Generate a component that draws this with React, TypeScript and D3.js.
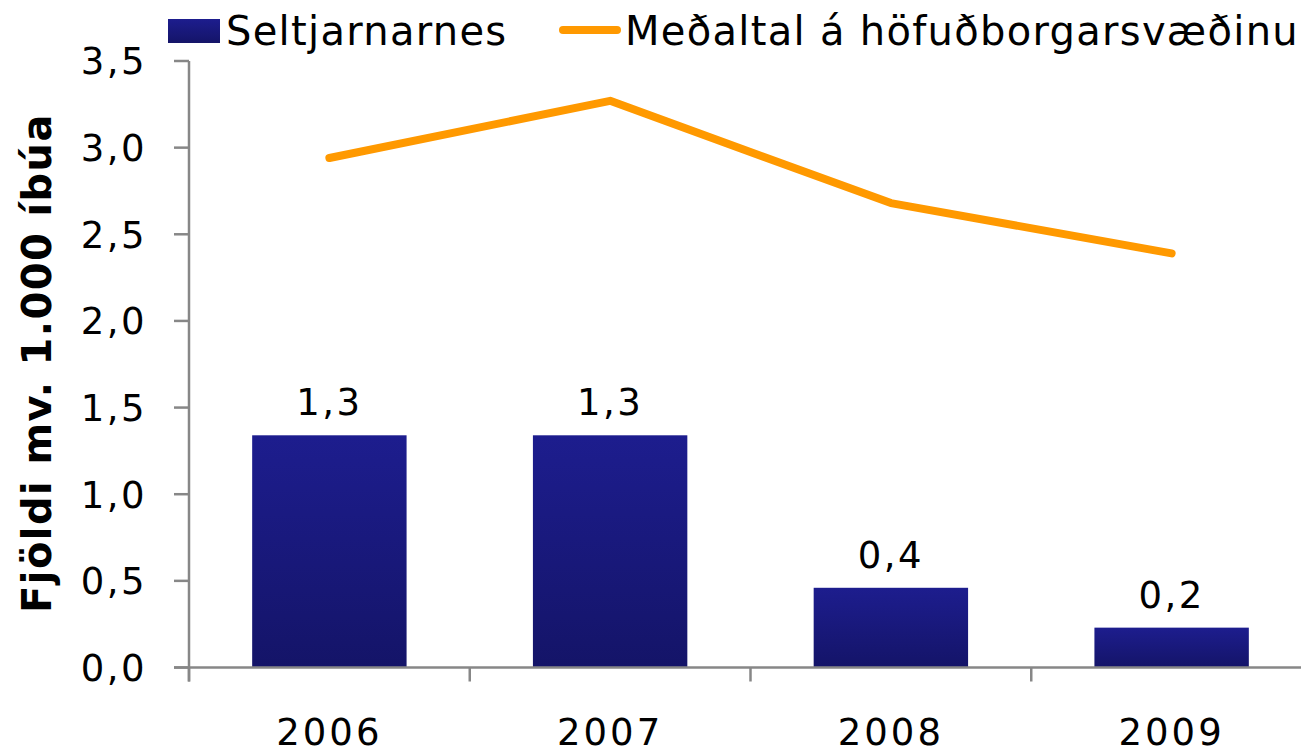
import * as d3 from "d3";
import React from "react";

const width = 1301;
const height = 756;
const margin = { top: 61, right: -11, bottom: 88.5, left: 189 };

const years = ["2006", "2007", "2008", "2009"];
const seltjarnarnes = [1.34, 1.34, 0.46, 0.23];
const barLabels = ["1,3", "1,3", "0,4", "0,2"];
const hofudborgarsvaedi = [2.94, 3.27, 2.68, 2.39];
const yTicks = [0, 0.5, 1, 1.5, 2, 2.5, 3, 3.5];

const barName = "Seltjarnarnes";
const lineName = "Meðaltal á höfuðborgarsvæðinu";
const yTitle = "Fjöldi mv. 1.000 íbúa";

const font = "'DejaVu Sans', Verdana, sans-serif";
const axisColor = "#878787";
const orange = "#FF9900";

const App = () => {
  const xScale = d3
    .scaleBand()
    .domain(years)
    .range([margin.left, width - margin.right])
    .paddingInner(0.45)
    .paddingOuter(0.225);

  const yScale = d3
    .scaleLinear()
    .domain([0, 3.5])
    .range([height - margin.bottom, margin.top]);

  const y0 = yScale(0);
  const step = xScale.step();
  const center = (d) => xScale(d) + xScale.bandwidth() / 2;

  const line = d3
    .line()
    .x((d, i) => center(years[i]))
    .y((d) => yScale(d));

  // category boundaries for the x ticks
  const xTickPos = years.map((d) => xScale(d) - step * 0.225);

  return (
    <svg
      width={width}
      height={height}
      style={{ position: "absolute", left: 0, top: 0, background: "#fff" }}
      fontFamily={font}
    >
      <defs>
        <linearGradient id="barFill" x1="0" y1="0" x2="0" y2="1">
          <stop offset="0%" stopColor="#1D1D8E" />
          <stop offset="100%" stopColor="#141468" />
        </linearGradient>
      </defs>

      {/* bars */}
      {seltjarnarnes.map((v, i) => (
        <rect
          key={years[i]}
          x={xScale(years[i])}
          y={yScale(v)}
          width={xScale.bandwidth()}
          height={y0 - yScale(v)}
          fill="url(#barFill)"
        />
      ))}

      {/* bar labels */}
      {seltjarnarnes.map((v, i) => (
        <text
          key={"l" + years[i]}
          x={center(years[i])}
          y={yScale(v) - 20}
          textAnchor="middle"
          fontSize={37}
          letterSpacing={2.5}
          fill="#000"
        >
          {barLabels[i]}
        </text>
      ))}

      {/* y axis */}
      <line x1={margin.left} x2={margin.left} y1={margin.top} y2={y0 + 14} stroke={axisColor} strokeWidth={2.5} />
      {yTicks.map((t) => (
        <g key={t}>
          <line x1={margin.left - 15} x2={margin.left} y1={yScale(t)} y2={yScale(t)} stroke={axisColor} strokeWidth={2.5} />
          <text
            x={margin.left - 42}
            y={yScale(t)}
            dy="0.36em"
            textAnchor="end"
            fontSize={37}
            letterSpacing={2.5}
            fill="#000"
          >
            {d3.format(".1f")(t).replace(".", ",")}
          </text>
        </g>
      ))}

      {/* x axis */}
      <line x1={margin.left - 15} x2={width} y1={y0} y2={y0} stroke={axisColor} strokeWidth={2.5} />
      {xTickPos.map((x, i) => (
        <line key={i} x1={x} x2={x} y1={y0} y2={y0 + 14} stroke={axisColor} strokeWidth={2.5} />
      ))}
      {years.map((d) => (
        <text
          key={d}
          x={center(d)}
          y={745}
          textAnchor="middle"
          fontSize={37}
          letterSpacing={3}
          fill="#000"
        >
          {d}
        </text>
      ))}

      {/* line series */}
      <path
        d={line(hofudborgarsvaedi)}
        fill="none"
        stroke={orange}
        strokeWidth={8}
        strokeLinecap="round"
        strokeLinejoin="round"
      />

      {/* y title */}
      <text
        transform={`translate(51, 363) rotate(-90)`}
        textAnchor="middle"
        fontSize={40}
        fontWeight="bold"
        letterSpacing={1.4}
        fill="#000"
      >
        {yTitle}
      </text>

      {/* legend */}
      <rect x={168} y={19} width={52} height={24} fill="url(#barFill)" />
      <text x={226} y={45} fontSize={40} letterSpacing={1.3} fill="#000">
        {barName}
      </text>
      <line x1={563} x2={617} y1={30} y2={30} stroke={orange} strokeWidth={8} strokeLinecap="round" />
      <text x={625} y={45} fontSize={40} letterSpacing={1.3} fill="#000">
        {lineName}
      </text>
    </svg>
  );
};

export default App;
